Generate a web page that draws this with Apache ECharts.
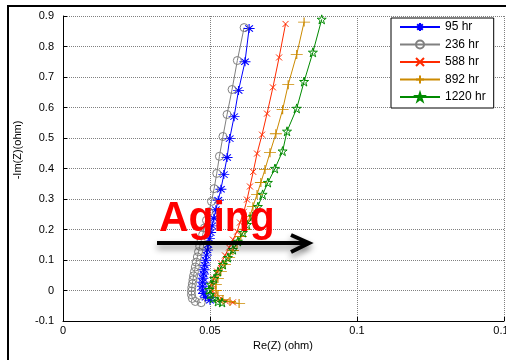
<!DOCTYPE html>
<html>
<head>
<meta charset="utf-8">
<script src="https://cdn.jsdelivr.net/npm/echarts@6/dist/echarts.min.js"></script>
<style>html,body{margin:0;padding:0;background:#fff;}#c{width:506px;height:360px;}</style>
</head>
<body>
<div id="c"></div>
<script>
const seriesNames = ['95 hr', '236 hr', '588 hr', '892 hr', '1220 hr'];
const xTicks = [0, 0.05, 0.1, 0.15];
const yTicks = [-0.1, 0, 0.1, 0.2, 0.3, 0.4, 0.5, 0.6, 0.7, 0.8, 0.9];

const hr95 = [[0.0500,-0.032],[0.0485,-0.022],[0.0478,-0.010],[0.0475,0.002],[0.0474,0.014],[0.0475,0.027],[0.0476,0.040],[0.0478,0.054],[0.0480,0.068],[0.0482,0.083],[0.0485,0.099],[0.0488,0.116],[0.0491,0.133],[0.0494,0.151],[0.0498,0.170],[0.0502,0.190],[0.0507,0.212],[0.0513,0.237],[0.0520,0.265],[0.0528,0.296],[0.0537,0.332],[0.0547,0.380],[0.0558,0.436],[0.0567,0.498],[0.0582,0.570],[0.0597,0.656],[0.0619,0.750],[0.0633,0.859]];
const hr236 = [[0.0470,-0.040],[0.0450,-0.036],[0.0440,-0.026],[0.0437,-0.014],[0.0437,-0.002],[0.0438,0.010],[0.0440,0.022],[0.0442,0.035],[0.0444,0.048],[0.0447,0.062],[0.0450,0.077],[0.0453,0.093],[0.0457,0.110],[0.0461,0.127],[0.0465,0.145],[0.0470,0.163],[0.0475,0.183],[0.0481,0.205],[0.0488,0.230],[0.0496,0.258],[0.0505,0.292],[0.0514,0.334],[0.0523,0.384],[0.0532,0.440],[0.0544,0.505],[0.0558,0.577],[0.0575,0.659],[0.0593,0.754],[0.0616,0.862]];
const hr588 = [[0.0578,-0.039],[0.0554,-0.036],[0.0531,-0.030],[0.0514,-0.016],[0.0507,0.000],[0.0507,0.020],[0.0514,0.039],[0.0524,0.062],[0.0537,0.089],[0.0551,0.115],[0.0565,0.141],[0.0578,0.167],[0.0592,0.193],[0.0602,0.223],[0.0615,0.258],[0.0626,0.298],[0.0636,0.341],[0.0647,0.389],[0.0660,0.449],[0.0677,0.511],[0.0694,0.580],[0.0714,0.666],[0.0735,0.764],[0.0757,0.874]];
const hr892 = [[0.0599,-0.043],[0.0568,-0.036],[0.0544,-0.030],[0.0527,-0.016],[0.0520,0.000],[0.0520,0.020],[0.0527,0.039],[0.0537,0.062],[0.0551,0.085],[0.0565,0.108],[0.0578,0.131],[0.0592,0.154],[0.0605,0.177],[0.0619,0.200],[0.0636,0.243],[0.0646,0.275],[0.0660,0.315],[0.0673,0.354],[0.0687,0.397],[0.0704,0.452],[0.0724,0.514],[0.0747,0.593],[0.0766,0.675],[0.0795,0.774],[0.0820,0.880]];
const hr1220 = [[0.0541,-0.039],[0.0527,-0.036],[0.0510,-0.026],[0.0500,-0.013],[0.0497,0.003],[0.0503,0.020],[0.0514,0.039],[0.0527,0.062],[0.0544,0.085],[0.0561,0.108],[0.0578,0.134],[0.0595,0.161],[0.0612,0.190],[0.0626,0.216],[0.0646,0.243],[0.0663,0.275],[0.0679,0.315],[0.0697,0.354],[0.0721,0.400],[0.0747,0.457],[0.0762,0.522],[0.0795,0.597],[0.0820,0.685],[0.0850,0.781],[0.0880,0.889]];

const dataSets = [hr95, hr236, hr588, hr892, hr1220];
const colors = ['#0000ff', '#808080', '#ff2a00', '#cc8a00', '#008a00'];
const symbols = [
  'path://M5,0L5,10M0,5L10,5M1.5,1.5L8.5,8.5M1.5,8.5L8.5,1.5',
  'circle',
  'path://M0,0L10,10M0,10L10,0',
  'path://M5,0L5,10M0,5L10,5',
  'path://M5,0L6.2,3.6L10,3.6L6.9,5.9L8.1,9.5L5,7.3L1.9,9.5L3.1,5.9L0,3.6L3.8,3.6Z'
];
const sizes = [[11,9], 8, 6, [12,9], 9];

const chart = echarts.init(document.getElementById('c'), null, {renderer: 'canvas'});
const font = 'Liberation Sans';
const series = seriesNames.map((n, i) => ({
  name: n,
  type: 'line',
  data: dataSets[i],
  color: colors[i],
  symbol: symbols[i],
  symbolSize: sizes[i],
  showAllSymbol: true,
  animation: false,
  lineStyle: {color: colors[i], width: 1},
  itemStyle: {color: 'rgba(0,0,0,0)', borderColor: colors[i], borderWidth: 1},
  emphasis: {disabled: true}
}));

chart.setOption({
  animation: false,
  backgroundColor: '#fff',
  grid: {left: 63, top: 16, right: 2, bottom: 39, containLabel: false, outerBoundsMode: 'none'},
  xAxis: {
    type: 'value', min: xTicks[0], max: xTicks[xTicks.length-1], interval: 0.05,
    axisLine: {show: true, onZero: false, lineStyle: {color: '#000', width: 1}},
    axisTick: {show: true, inside: true, length: 4, lineStyle: {color: '#000'}},
    axisLabel: {color: '#000', fontSize: 11, fontFamily: font, margin: 4},
    splitLine: {show: true, lineStyle: {color: '#808080', type: [1, 1], width: 1}}
  },
  yAxis: {
    type: 'value', min: yTicks[0], max: yTicks[yTicks.length-1], interval: 0.1,
    axisLine: {show: true, onZero: false, lineStyle: {color: '#000', width: 1}},
    axisTick: {show: true, inside: true, length: 4, lineStyle: {color: '#000'}},
    axisLabel: {color: '#000', fontSize: 11, fontFamily: font, margin: 9},
    splitLine: {show: true, lineStyle: {color: '#808080', type: [1, 1], width: 1}}
  },
  legend: {
    orient: 'vertical', left: 391, top: 18,
    itemWidth: 40, itemHeight: 10, itemGap: 5.5,
    padding: [3, 8, 5, 8],
    backgroundColor: '#fff', borderColor: '#000', borderWidth: 1, borderRadius: 0,
    textStyle: {color: '#000', fontSize: 12, fontFamily: font},
    data: seriesNames
  },
  graphic: [
    {type: 'rect', silent: true, z: 100, shape: {x: 8, y: 6, width: 700, height: 500}, style: {fill: 'none', stroke: '#000', lineWidth: 2}},
    {type: 'text', silent: true, z: 100, x: 18, y: 150, rotation: Math.PI/2, style: {text: '-Im(Z)(ohm)', fill: '#000', font: '11px "Liberation Sans"', align: 'center', verticalAlign: 'middle'}},
    {type: 'text', silent: true, z: 100, x: 283, y: 346, style: {text: 'Re(Z) (ohm)', fill: '#000', font: '11px "Liberation Sans"', align: 'center', verticalAlign: 'middle'}},
    {type: 'text', silent: true, z: 100, x: 159, y: 219, scaleX: 0.95, style: {text: 'Aging', fill: '#ff0000', font: 'bold 43px "Liberation Sans"', align: 'left', verticalAlign: 'middle'}},
    {type: 'polyline', silent: true, z: 100, shape: {points: [[157,243],[306,243]]}, style: {stroke: '#000', lineWidth: 4, fill: 'none', shadowBlur: 6, shadowColor: 'rgba(0,0,0,0.45)', shadowOffsetY: 4}},
    {type: 'polyline', silent: true, z: 100, shape: {points: [[291,235],[309,243],[291,252]]}, style: {stroke: '#000', lineWidth: 4, fill: 'none', lineJoin: 'miter', shadowBlur: 6, shadowColor: 'rgba(0,0,0,0.45)', shadowOffsetY: 4}}
  ],
  series: series
});
</script>
</body>
</html>
